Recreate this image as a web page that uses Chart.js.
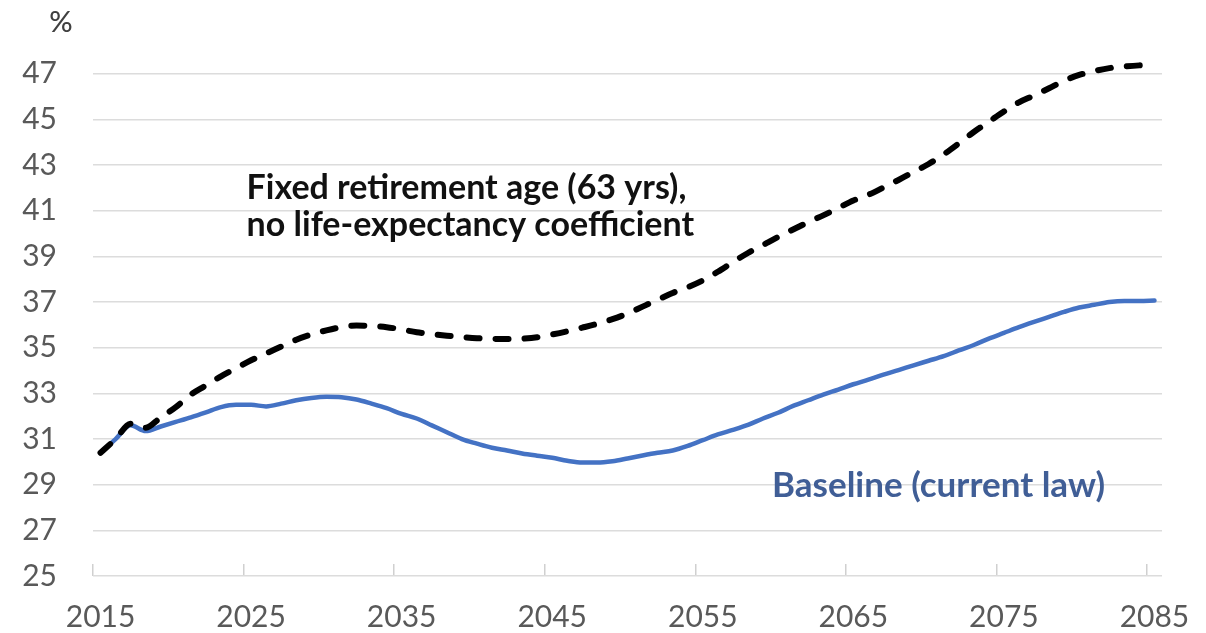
<!DOCTYPE html>
<html>
<head>
<meta charset="utf-8">
<script src="https://cdn.jsdelivr.net/npm/chart.js@4.4.1/dist/chart.umd.min.js"></script>
<style>
  html, body { margin: 0; padding: 0; background: #fff; }
  #wrap { width: 1206px; height: 633px; }
</style>
</head>
<body>
<div id="wrap"><canvas id="grafico"></canvas></div>
<script>
// anos (categorias do eixo x)
const years = [
  2015, 2016, 2017, 2018, 2019, 2020, 2021, 2022, 2023, 2024,
  2025, 2026, 2027, 2028, 2029, 2030, 2031, 2032, 2033, 2034,
  2035, 2036, 2037, 2038, 2039, 2040, 2041, 2042, 2043, 2044,
  2045, 2046, 2047, 2048, 2049, 2050, 2051, 2052, 2053, 2054,
  2055, 2056, 2057, 2058, 2059, 2060, 2061, 2062, 2063, 2064,
  2065, 2066, 2067, 2068, 2069, 2070, 2071, 2072, 2073, 2074,
  2075, 2076, 2077, 2078, 2079, 2080, 2081, 2082, 2083, 2084,
  2085
];

// idade de reforma fixa (63 anos), sem coeficiente
const fixedAge = [
  30.4, 31.0, 31.67, 31.5, 31.95, 32.4, 32.95, 33.35, 33.75, 34.1,
  34.45, 34.75, 35.05, 35.35, 35.58, 35.76, 35.9, 35.97, 35.95, 35.9,
  35.8, 35.68, 35.6, 35.53, 35.47, 35.42, 35.39, 35.38, 35.4, 35.46,
  35.58, 35.72, 35.88, 36.05, 36.25, 36.5, 36.8, 37.1, 37.4, 37.65,
  37.95, 38.33, 38.75, 39.15, 39.5, 39.85, 40.18, 40.5, 40.8, 41.12,
  41.45, 41.7, 42.02, 42.35, 42.7, 43.05, 43.47, 43.95, 44.45, 44.9,
  45.35, 45.75, 46.05, 46.37, 46.7, 46.95, 47.12, 47.25, 47.32, 47.37,
  47.4
];

// cenário base (lei atual)
const baseline = [
  30.4, 31.0, 31.6, 31.35, 31.55, 31.75, 31.95, 32.17, 32.4, 32.5,
  32.5, 32.43, 32.55, 32.7, 32.8, 32.85, 32.83, 32.73, 32.55, 32.35,
  32.1, 31.9, 31.6, 31.3, 31.0, 30.8, 30.62, 30.5, 30.37, 30.27,
  30.18, 30.05, 29.97, 29.97, 30.03, 30.15, 30.28, 30.4, 30.5, 30.7,
  30.95, 31.2, 31.4, 31.62, 31.9, 32.15, 32.45, 32.7, 32.95, 33.17,
  33.4, 33.6, 33.82, 34.02, 34.23, 34.43, 34.63, 34.88, 35.12, 35.4,
  35.65, 35.9, 36.13, 36.35, 36.57, 36.76, 36.88, 37.0, 37.05, 37.05,
  37.07
];

// marcas do eixo y
const yTicks = [25, 27, 29, 31, 33, 35, 37, 39, 41, 43, 45, 47];

// textos dentro do gráfico (ano, valor da linha de base do texto)
const notes = [
  { text: 'Fixed retirement age (63 yrs),', year: 2024.7, value: 41.5, color: '#111111', size: 34 },
  { text: 'no life-expectancy coefficient', year: 2024.7, value: 39.9, color: '#111111', size: 34 },
  { text: 'Baseline (current law)', year: 2059.6, value: 28.45, color: '#405e96', size: 35 }
];

const FONT = 'Lato, "Open Sans", sans-serif';

// escreve o "%" por cima do eixo e as notas
const textPlugin = {
  id: 'textos',
  afterDatasetsDraw(chart) {
    const ctx = chart.ctx;
    const { x, y } = chart.scales;
    ctx.save();
    ctx.font = '500 29px ' + FONT;
    ctx.fillStyle = '#404040';
    ctx.textAlign = 'center';
    ctx.textBaseline = 'middle';
    ctx.fillText('%', chart.chartArea.left - 32, chart.chartArea.top - 28);

    ctx.textAlign = 'left';
    ctx.textBaseline = 'alphabetic';
    notes.forEach(n => {
      ctx.font = 'bold ' + n.size + 'px ' + FONT;
      ctx.fillStyle = n.color;
      ctx.fillText(n.text, x.getPixelForValue(n.year - years[0]), y.getPixelForValue(n.value));
    });
    ctx.restore();
  }
};

const ctx = document.getElementById('grafico').getContext('2d');

new Chart(ctx, {
  type: 'line',
  data: {
    labels: years,
    datasets: [
      {
        label: 'Fixed retirement age (63 yrs), no life-expectancy coefficient',
        data: fixedAge,
        borderColor: '#000000',
        borderWidth: 6,
        borderDash: [13, 16],
        borderCapStyle: 'round',
        pointRadius: 0,
        cubicInterpolationMode: 'monotone',
        fill: false
      },
      {
        label: 'Baseline (current law)',
        data: baseline,
        borderColor: '#4472c4',
        borderWidth: 4.5,
        borderCapStyle: 'round',
        pointRadius: 0,
        cubicInterpolationMode: 'monotone',
        fill: false
      }
    ]
  },
  options: {
    responsive: true,
    maintainAspectRatio: false,
    animation: false,
    layout: {
      padding: { left: 22, right: 44, top: 49, bottom: 1 }
    },
    plugins: {
      legend: { display: false },
      tooltip: { enabled: false }
    },
    scales: {
      x: {
        type: 'category',
        offset: true,
        border: { display: false },
        afterFit: scale => {
          scale.height = 56;
          scale.paddingLeft = 0;
          scale.paddingRight = 0;
        },
        grid: {
          offset: true,
          drawOnChartArea: false,
          drawTicks: true,
          tickLength: -12,
          lineWidth: 1.5,
          color: c => (years[c.index] % 10 === 5 ? '#d0d0d0' : 'rgba(0,0,0,0)')
        },
        ticks: {
          autoSkip: false,
          maxRotation: 0,
          padding: 38,
          color: '#595959',
          font: { family: FONT, size: 30, lineHeight: 1 },
          callback: (value, index) => (years[index] % 10 === 5 ? String(years[index]) : '')
        }
      },
      y: {
        min: 25,
        max: 48,
        afterBuildTicks: scale => {
          scale.ticks = yTicks.map(v => ({ value: v }));
        },
        afterFit: scale => {
          scale.width = 71;
        },
        border: { display: false },
        grid: {
          drawTicks: false,
          color: '#dcdcdc',
          lineWidth: 1.5
        },
        ticks: {
          padding: 36,
          color: '#595959',
          font: { family: FONT, size: 30, lineHeight: 1 }
        }
      }
    }
  },
  plugins: [textPlugin]
});
</script>
</body>
</html>
